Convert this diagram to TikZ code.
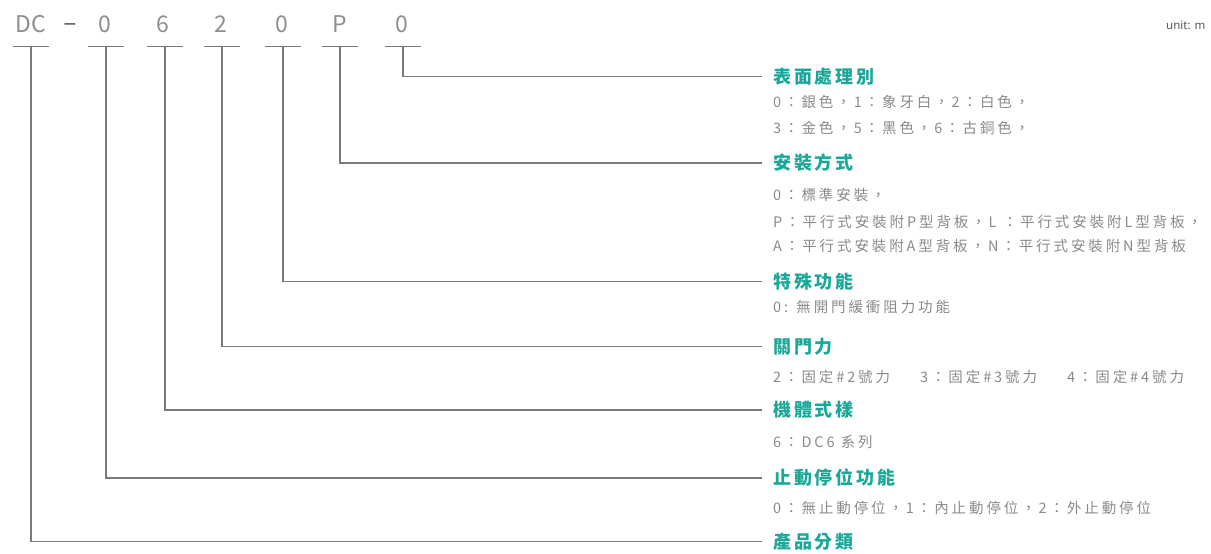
\documentclass[tikz,border=0pt]{standalone}
\usepackage{fontspec}
\setmainfont{Noto Sans CJK TC}
\newfontfamily\titlefont[LetterSpace=16]{Noto Sans CJK TC}
\newfontfamily\bodyfont[LetterSpace=20]{Noto Sans CJK TC}
\newfontfamily\codefont{Noto Sans CJK TC}
\newfontfamily\unitfont{Noto Sans}
\definecolor{teal1}{HTML}{1AA797}
\definecolor{bodygray}{HTML}{8A8A8A}
\definecolor{codegray}{HTML}{8E8E8E}
\definecolor{dashgray}{HTML}{606060}
\definecolor{linegray}{HTML}{7A7A7A}
\definecolor{unitgray}{HTML}{555555}
\tikzset{
  conn/.style={draw=linegray, line width=1.3pt},
  codechar/.style={anchor=base, inner sep=0pt, text=codegray, font=\codefont\fontsize{23}{23}\selectfont},
  titlenode/.style={anchor=west, inner xsep=11pt, inner ysep=0pt, text=teal1, font=\titlefont\bfseries\fontsize{18}{18}\selectfont},
  bodynode/.style={anchor=west, inner sep=0pt, text=bodygray, font=\bodyfont\fontsize{14.5}{14.5}\selectfont},
}
\begin{document}
\begin{tikzpicture}[x=1pt,y=-1pt]
\useasboundingbox (0,0) rectangle (1211,554);
% code characters
\node[codechar] (c1) at (31,32) {DC};
\node[codechar, text=dashgray, font=\unitfont\bfseries\fontsize{23}{23}\selectfont] (cd) at (70,32) {−};
\node[codechar] (c2) at (105,32) {0};
\node[codechar] (c3) at (163,32) {6};
\node[codechar] (c4) at (221,32) {2};
\node[codechar] (c5) at (282,32) {0};
\node[codechar] (c6) at (340,32) {P};
\node[codechar] (c7) at (402,32) {0};
% underline points
\coordinate (u1) at (31,46.7);
\coordinate (u2) at (106,46.7);
\coordinate (u3) at (165,46.7);
\coordinate (u4) at (222,46.7);
\coordinate (u5) at (283,46.7);
\coordinate (u6) at (340,46.7);
\coordinate (u7) at (403,46.7);
\foreach \i in {1,...,7}{
  \draw[conn] ([xshift=-18pt]u\i) -- ([xshift=18pt]u\i);
}
% titles
\node[titlenode] (t1) at (762,76.7) {表面處理別};
\node[titlenode] (t2) at (762,163) {安裝方式};
\node[titlenode] (t3) at (762,281.7) {特殊功能};
\node[titlenode] (t4) at (762,346.7) {關門力};
\node[titlenode] (t5) at (762,410) {機體式樣};
\node[titlenode] (t6) at (762,478) {止動停位功能};
\node[titlenode] (t7) at (762,541.7) {產品分類};
% connectors
\draw[conn] (u7) |- (t1.west);
\draw[conn] (u6) |- (t2.west);
\draw[conn] (u5) |- (t3.west);
\draw[conn] (u4) |- (t4.west);
\draw[conn] (u3) |- (t5.west);
\draw[conn] (u2) |- (t6.west);
\draw[conn] (u1) |- (t7.west);
% bodies
\node[bodynode] (b1a) at (773,101.7) {0：銀色，1：象牙白，2：白色，};
\node[bodynode] (b1b) at (773,128) {3：金色，5：黑色，6：古銅色，};
\node[bodynode] (b2a) at (773,195) {0：標準安裝，};
\node[bodynode] (b2b) at (773,221.7) {P：平行式安裝附P型背板，L ：平行式安裝附L型背板，};
\node[bodynode] (b2c) at (773,246) {A：平行式安裝附A型背板，N：平行式安裝附N型背板};
\node[bodynode] (b3) at (773,307) {0: 無開門緩衝阻力功能};
\node[bodynode] (b4) at (773,376.7) {2：固定\#2號力\hspace{30pt}3：固定\#3號力\hspace{30pt}4：固定\#4號力};
\node[bodynode] (b5) at (773,441.7) {6：DC6 系列};
\node[bodynode] (b6) at (773,508) {0：無止動停位，1：內止動停位，2：外止動停位};
% unit
\node[anchor=west, inner sep=0pt, text=unitgray, font=\unitfont\fontsize{11.5}{11.5}\selectfont] (unit) at (1166,25) {unit: m};
\end{tikzpicture}
\end{document}
